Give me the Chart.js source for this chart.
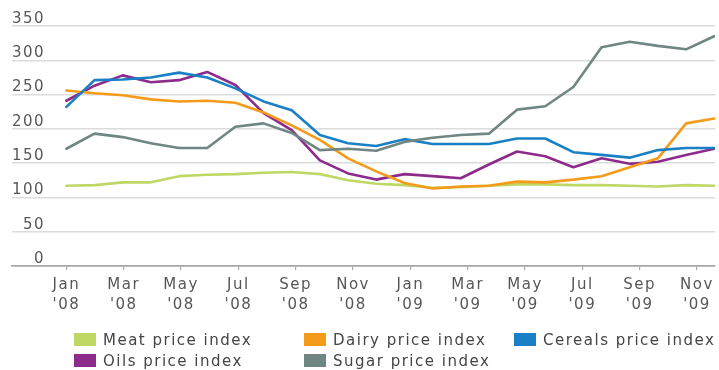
<!DOCTYPE html>
<html>
<head>
<meta charset="utf-8">
<script src="https://cdn.jsdelivr.net/npm/chart.js@4.4.0/dist/chart.umd.min.js"></script>
<style>
  html, body { margin: 0; padding: 0; background: #fff; overflow: hidden; }
  #wrap { position: relative; width: 719px; height: 370px; }
  #c { position: absolute; left: 0; top: 0; }
  #legend {
    position: absolute; left: 74px; top: 329px;
    display: grid; grid-template-columns: 230px 210px auto; grid-auto-rows: 21px;
    font: 15px "DejaVu Sans", sans-serif; letter-spacing: 1.5px; color: #454545;
  }
  .item { display: flex; align-items: center; white-space: nowrap; }
  .sw { width: 22px; height: 13px; margin-right: 7px; flex: none; }
</style>
</head>
<body>
<div id="wrap">
  <canvas id="c" width="719" height="370"></canvas>
  <div id="legend"></div>
</div>
<script>
// Monthly FAO-style food price indices, Jan 2008 - Dec 2009
const months = [
  "Jan '08", "Feb '08", "Mar '08", "Apr '08", "May '08", "Jun '08",
  "Jul '08", "Aug '08", "Sep '08", "Oct '08", "Nov '08", "Dec '08",
  "Jan '09", "Feb '09", "Mar '09", "Apr '09", "May '09", "Jun '09",
  "Jul '09", "Aug '09", "Sep '09", "Oct '09", "Nov '09", "Dec '09"
];

const meat    = [117, 118, 122, 122, 131, 133, 134, 136, 137, 134, 125, 120, 118, 114, 115, 117, 119, 119, 118, 118, 117, 116, 118, 117];
const dairy   = [256, 252, 249, 243, 240, 241, 238, 224, 205, 184, 157, 138, 121, 113, 116, 117, 123, 122, 126, 131, 144, 157, 208, 215];
const cereals = [232, 271, 272, 275, 282, 275, 259, 240, 227, 191, 179, 175, 185, 178, 178, 178, 186, 186, 166, 162, 158, 169, 172, 172];
const oils    = [241, 263, 278, 268, 271, 283, 264, 223, 198, 154, 135, 126, 134, 131, 128, 148, 167, 160, 144, 157, 149, 152, 162, 171];
const sugar   = [171, 193, 188, 179, 172, 172, 203, 208, 194, 169, 171, 168, 181, 187, 191, 193, 228, 233, 261, 319, 327, 321, 316, 335];

const seriesNames = ['Meat price index', 'Dairy price index', 'Cereals price index', 'Oils price index', 'Sugar price index'];
const seriesValues = [meat, dairy, cereals, oils, sugar];
const seriesColors = ['#bfd765', '#f49b19', '#1a80c6', '#8d2b8a', '#6f8682'];

// axis ticks: every second month, shown as month over year
const tickMonths = months.map((m, i) => i).filter(i => i % 2 === 0);

const TEXT = '#575757';
const FONT = { family: '"DejaVu Sans", sans-serif', size: 15, lineHeight: 1.34 };

const spacing = {
  id: 'spacing',
  beforeLayout(chart) { chart.ctx.letterSpacing = '1.5px'; },
  beforeDraw(chart) { chart.ctx.letterSpacing = '1.5px'; }
};

const chart = new Chart(document.getElementById('c'), {
  type: 'line',
  data: {
    datasets: seriesNames.map((name, k) => ({
      label: name,
      data: seriesValues[k].map((v, i) => ({ x: i, y: v })),
      borderColor: seriesColors[k],
      backgroundColor: seriesColors[k],
      borderWidth: 2.6,
      pointRadius: 0,
      tension: 0,
      borderJoinStyle: 'round',
      borderCapStyle: 'round',
      xAxisID: 'x',
      order: [4, 2, 1, 3, 0][k]
    }))
  },
  options: {
    responsive: false,
    animation: false,
    events: [],
    layout: { padding: { left: 12, right: 0, top: 26, bottom: 0 } },
    plugins: { legend: { display: false }, tooltip: { enabled: false } },
    scales: {
      x: {
        type: 'linear',
        display: false,
        min: -1.93,
        max: 23.03
      },
      xLabels: {
        type: 'linear',
        position: 'bottom',
        min: -1.898,
        max: 22.63,
        afterBuildTicks(scale) { scale.ticks = tickMonths.map(v => ({ value: v })); },
        afterFit(scale) { scale.height = 104; },
        grid: { drawOnChartArea: false, drawTicks: true, tickLength: 4, color: '#a8a8a8', lineWidth: 1.2 },
        border: { display: true, color: '#a8a8a8', width: 1.5 },
        ticks: {
          autoSkip: false,
          maxRotation: 0,
          padding: 5,
          color: TEXT,
          font: FONT,
          callback: (v) => months[v].split(' ')
        }
      },
      y: {
        min: 0,
        max: 350,
        position: 'left',
        border: { display: false },
        grid: {
          drawTicks: false,
          color: (c) => c.tick && c.tick.value === 0 ? '#a8a8a8' : '#dcdcdc',
          lineWidth: 1.5
        },
        ticks: {
          stepSize: 50,
          mirror: true,
          crossAlign: 'far',
          padding: 0,
          labelOffset: -7,
          color: TEXT,
          font: FONT
        }
      }
    }
  },
  plugins: [spacing]
});

// legend laid out in three columns under the axis
const legend = document.getElementById('legend');
chart.data.datasets.forEach(ds => {
  const item = document.createElement('div');
  item.className = 'item';
  const sw = document.createElement('span');
  sw.className = 'sw';
  sw.style.background = ds.borderColor;
  const label = document.createElement('span');
  label.textContent = ds.label;
  item.appendChild(sw);
  item.appendChild(label);
  legend.appendChild(item);
});
</script>
</body>
</html>
